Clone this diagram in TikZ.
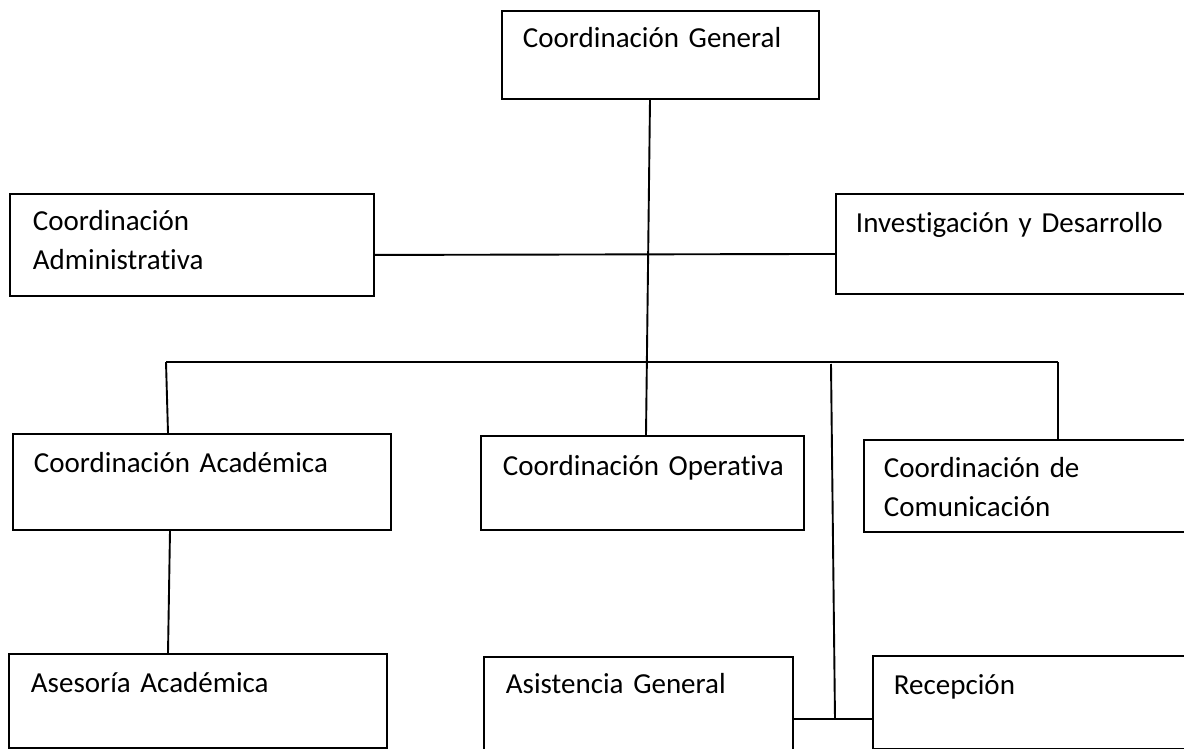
\documentclass[tikz,border=0pt]{standalone}
\usepackage{fontspec}
\setmainfont[Ligatures=NoCommon]{Carlito}
\usetikzlibrary{positioning}

\begin{document}
\begin{tikzpicture}[x=1pt, y=-1pt, line width=1.9pt,
    unit/.style={draw, anchor=north west, inner sep=0pt},
    unittext/.style={anchor=base west, inner sep=0pt, text width=330pt, align=left,
      font=\fontsize{29}{39}\selectfont}]
  \path[use as bounding box, clip] (0,0) rectangle (1184,749);

  % boxes
  \node[unit, minimum width=317pt, minimum height=88pt]  (gen) at (501,10)  {};
  \node[unit, minimum width=364pt, minimum height=102pt] (adm) at (9,193)   {};
  \node[unit, minimum width=370pt, minimum height=100pt] (inv) at (835,193) {};
  \node[unit, minimum width=378pt, minimum height=96pt]  (aca) at (12,433)  {};
  \node[unit, minimum width=323pt, minimum height=94pt]  (ope) at (480,435) {};
  \node[unit, minimum width=340pt, minimum height=92pt]  (com) at (863,439) {};
  \node[unit, minimum width=378pt, minimum height=94pt]  (ase) at (8,653)   {};
  \node[unit, minimum width=309pt, minimum height=110pt] (asi) at (483,656) {};
  \node[unit, minimum width=330pt, minimum height=93pt]  (rec) at (872,655) {};

  % texts
  \node[unittext] (gen-t) at (522,48)  {Coordinación General};
  \node[unittext] (adm-t) at (32,230)  {Coordinación\\Administrativa};
  \node[unittext] (inv-t) at (855,232) {Investigación y Desarrollo};
  \node[unittext] (aca-t) at (33,472)  {Coordinación Académica};
  \node[unittext] (ope-t) at (502,475) {Coordinación Operativa};
  \node[unittext] (com-t) at (883,477) {Coordinación de\\Comunicación};
  \node[unittext] (ase-t) at (30,692)  {Asesoría Académica};
  \node[unittext] (asi-t) at (505,693) {Asistencia General};
  \node[unittext] (rec-t) at (893,694) {Recepción};

  % bus and junctions
  \coordinate (busL) at (166,362);
  \coordinate (busR) at (1058,362);
  \coordinate (tap)  at (831,364);
  \coordinate (join) at (835,719);

  % connectors
  \draw ([xshift=149pt]gen.south west) -- ([xshift=166pt]ope.north west);
  \draw ([yshift=-10pt]adm.east) -- ([yshift=-10pt]inv.west -| inv.west);
  \draw (busL) -- (busR);
  \draw (busL) -- ([xshift=156pt]aca.north west);
  \draw (busR) -- (busR |- com.north);
  \draw (tap) -- (join);
  \draw (asi.east |- join) -- (rec.west |- join);
  \draw ([xshift=158pt]aca.south west) -- ([xshift=160pt]ase.north west);
\end{tikzpicture}
\end{document}
